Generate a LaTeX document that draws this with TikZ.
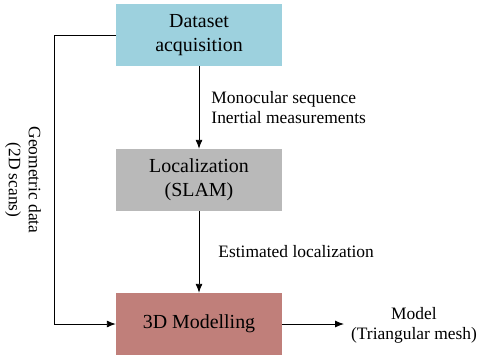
\documentclass[tikz,border=0pt]{standalone}
\usepackage{fontspec}
\setmainfont{Liberation Serif}
\newfontfamily\boxfont{Liberation Serif}
\usetikzlibrary{arrows.meta}
\definecolor{cblue}{RGB}{157,209,222}
\definecolor{cgray}{RGB}{185,185,185}
\definecolor{cred}{RGB}{192,127,122}
\begin{document}
\begin{tikzpicture}[x=1bp,y=-1bp,
  blockbox/.style={minimum width=166bp,minimum height=62bp,inner sep=0pt,align=center,font=\boxfont\fontsize{20}{24}\selectfont},
  lbl/.style={inner sep=0pt,font=\boxfont\fontsize{17.5}{20}\selectfont},
  conn/.style={line width=0.9bp,-{Latex[length=9bp,width=7bp]}}]
\useasboundingbox (0,0) rectangle (484,358);
\node[blockbox,fill=cblue] (acq) at (199,35) {Dataset\\acquisition};
\node[blockbox,fill=cgray] (loc) at (199,180) {Localization\\(SLAM)};
\node[blockbox,fill=cred] (mod) at (199,324) {3D Modelling};
\coordinate (tl) at (54,35);
\coordinate (bl) at (54,324);
\coordinate (out) at (344,324);
\draw[conn] (acq) -- (loc) node[pos=0.5,right=12bp,lbl,align=left] (l1) {Monocular sequence\\Inertial measurements};
\draw[conn] (loc) -- (mod) node[pos=0.5,right=19bp,lbl,anchor=west] (l2) {Estimated localization};
\draw[conn] (acq.west) -- (tl) -- (bl) -- (mod.west);
\draw[conn] (mod.east) -- (out);
\node[lbl,align=center] (l3) at (414,325) {Model\\(Triangular mesh)};
\node[lbl,align=center,rotate=-90] (l4) at (23,180) {Geometric data\\(2D scans)};
\end{tikzpicture}
\end{document}
